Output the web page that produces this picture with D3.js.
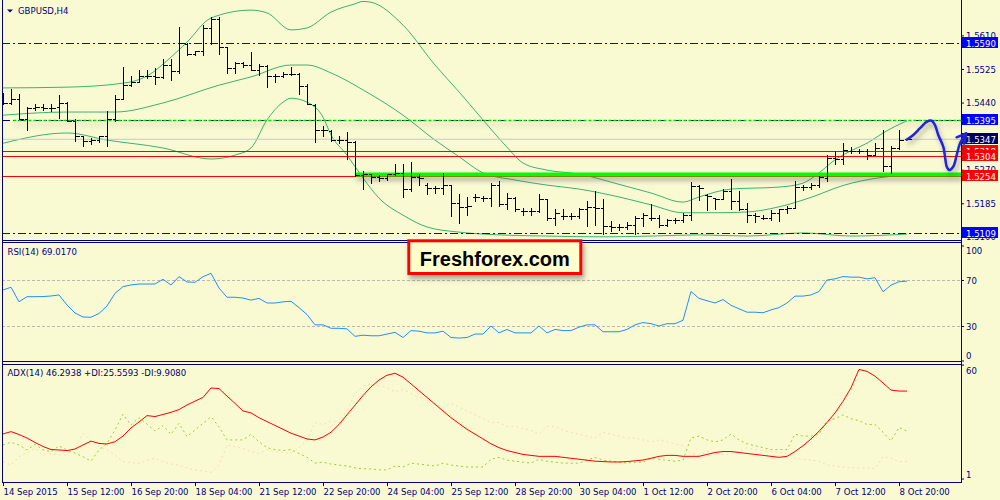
<!DOCTYPE html>
<html><head><meta charset="utf-8">
<script src="https://cdn.jsdelivr.net/npm/d3@7/dist/d3.min.js"></script>
<style>html,body{margin:0;padding:0;background:#fafad2;overflow:hidden}svg{display:block}</style>
</head><body>
<svg id="chart" width="1000" height="500"></svg>
<script>
// ---------------- DATA ----------------
const symbolTitle = "GBPUSD,H4";
const opens = [1.5459,1.5437,1.5448,1.5398,1.5425,1.5427,1.5425,1.5427,1.5438,1.5393,1.5354,1.5341,1.5343,1.5353,1.5396,1.5447,1.5482,1.5491,1.5506,1.5507,1.5503,1.5535,1.5518,1.5587,1.5562,1.5569,1.5628,1.5649,1.5579,1.5527,1.5539,1.5535,1.5522,1.5531,1.5506,1.5506,1.5510,1.5511,1.5480,1.5432,1.5370,1.5366,1.5345,1.5345,1.5339,1.5255,1.5257,1.5250,1.5248,1.5257,1.5261,1.5219,1.5251,1.5231,1.5223,1.5223,1.5229,1.5185,1.5175,1.5199,1.5198,1.5198,1.5231,1.5183,1.5198,1.5164,1.5164,1.5164,1.5195,1.5147,1.5151,1.5151,1.5151,1.5168,1.5175,1.5172,1.5127,1.5124,1.5124,1.5130,1.5147,1.5147,1.5147,1.5130,1.5141,1.5141,1.5155,1.5227,1.5204,1.5198,1.5195,1.5214,1.5189,1.5170,1.5155,1.5147,1.5147,1.5160,1.5168,1.5172,1.5226,1.5226,1.5229,1.5248,1.5299,1.5296,1.5316,1.5316,1.5316,1.5307,1.5324,1.5278,1.5324,1.5347];
const highs = [1.5463,1.5472,1.5461,1.5427,1.5434,1.5434,1.5434,1.5457,1.5441,1.5396,1.5354,1.5349,1.5355,1.5417,1.5459,1.5528,1.5506,1.5520,1.5520,1.5527,1.5548,1.5548,1.5630,1.5590,1.5570,1.5635,1.5655,1.5655,1.5579,1.5542,1.5542,1.5567,1.5537,1.5535,1.5510,1.5516,1.5528,1.5514,1.5486,1.5434,1.5379,1.5368,1.5354,1.5364,1.5341,1.5265,1.5258,1.5255,1.5258,1.5284,1.5284,1.5289,1.5258,1.5235,1.5227,1.5261,1.5231,1.5206,1.5200,1.5206,1.5203,1.5235,1.5241,1.5210,1.5199,1.5172,1.5172,1.5206,1.5195,1.5170,1.5168,1.5160,1.5172,1.5189,1.5214,1.5195,1.5138,1.5131,1.5136,1.5151,1.5158,1.5181,1.5153,1.5143,1.5147,1.5160,1.5237,1.5231,1.5206,1.5198,1.5219,1.5244,1.5214,1.5185,1.5158,1.5155,1.5166,1.5170,1.5178,1.5240,1.5231,1.5235,1.5254,1.5307,1.5316,1.5337,1.5327,1.5320,1.5320,1.5337,1.5370,1.5328,1.5370,1.5348];
const lows = [1.5435,1.5434,1.5396,1.5369,1.5419,1.5419,1.5417,1.5400,1.5392,1.5341,1.5328,1.5334,1.5339,1.5328,1.5392,1.5447,1.5480,1.5491,1.5501,1.5486,1.5501,1.5497,1.5514,1.5559,1.5559,1.5560,1.5587,1.5562,1.5514,1.5514,1.5528,1.5520,1.5508,1.5478,1.5491,1.5503,1.5508,1.5461,1.5434,1.5339,1.5354,1.5341,1.5337,1.5295,1.5252,1.5220,1.5235,1.5241,1.5242,1.5255,1.5199,1.5214,1.5231,1.5206,1.5210,1.5208,1.5151,1.5134,1.5155,1.5189,1.5189,1.5176,1.5178,1.5168,1.5164,1.5155,1.5155,1.5161,1.5141,1.5130,1.5144,1.5144,1.5147,1.5127,1.5130,1.5105,1.5113,1.5117,1.5119,1.5107,1.5126,1.5141,1.5124,1.5126,1.5134,1.5136,1.5141,1.5193,1.5166,1.5168,1.5195,1.5168,1.5166,1.5136,1.5136,1.5143,1.5141,1.5138,1.5158,1.5172,1.5217,1.5219,1.5226,1.5240,1.5284,1.5282,1.5310,1.5311,1.5296,1.5307,1.5265,1.5261,1.5320,1.5346];
const closes = [1.5437,1.5448,1.5398,1.5425,1.5427,1.5425,1.5425,1.5438,1.5393,1.5354,1.5341,1.5343,1.5353,1.5396,1.5447,1.5482,1.5491,1.5506,1.5507,1.5503,1.5535,1.5518,1.5590,1.5562,1.5569,1.5628,1.5649,1.5579,1.5527,1.5539,1.5535,1.5522,1.5531,1.5506,1.5506,1.5510,1.5511,1.5480,1.5435,1.5370,1.5370,1.5345,1.5345,1.5339,1.5255,1.5257,1.5250,1.5248,1.5257,1.5261,1.5219,1.5251,1.5248,1.5223,1.5223,1.5229,1.5185,1.5175,1.5176,1.5199,1.5198,1.5231,1.5183,1.5198,1.5170,1.5164,1.5164,1.5195,1.5147,1.5160,1.5151,1.5151,1.5168,1.5175,1.5172,1.5127,1.5124,1.5124,1.5130,1.5147,1.5155,1.5147,1.5130,1.5141,1.5141,1.5155,1.5227,1.5223,1.5202,1.5195,1.5214,1.5189,1.5170,1.5155,1.5151,1.5147,1.5160,1.5168,1.5172,1.5226,1.5226,1.5229,1.5251,1.5299,1.5296,1.5319,1.5316,1.5316,1.5307,1.5324,1.5278,1.5324,1.5345,1.5347];

// Bollinger band lines (sampled at bar indices)
const upperIdx = [0,8,15,18,21,23,26,31,33,36,38,41,44,45,46,50,54,57,60,63,65,68,72,77,81,85,87,91,97,100,102,104,106,108,110,113];
const upperVal = [1.5477,1.5479,1.5489,1.5507,1.5555,1.5593,1.5654,1.5674,1.5667,1.5624,1.5629,1.5669,1.5690,1.5696,1.5694,1.5636,1.5535,1.5467,1.5396,1.5327,1.5287,1.5269,1.5259,1.5233,1.5211,1.5188,1.5201,1.5221,1.5226,1.5236,1.5262,1.5295,1.5318,1.5337,1.5363,1.5394];
const midIdx = [0,8,14,20,27,31,36,38,41,45,50,54,57,60,64,68,72,77,81,85,89,93,97,101,105,110,113];
const midVal = [1.5408,1.5416,1.5416,1.5439,1.5484,1.5505,1.5535,1.5535,1.5515,1.5472,1.5408,1.5345,1.5303,1.5262,1.5244,1.5231,1.5221,1.5201,1.5181,1.5161,1.5161,1.5163,1.5176,1.5200,1.5230,1.5251,1.5257];
const lowIdx = [0,8,13,20,26,29,31,33,35,36,38,40,41,43,45,47,50,53,57,62,68,75,81,87,93,100,106,113];
const lowVal = [1.5337,1.5363,1.5345,1.5325,1.5297,1.5307,1.5325,1.5396,1.5441,1.5451,1.5441,1.5403,1.5358,1.5307,1.5249,1.5198,1.5155,1.5125,1.5112,1.5105,1.5102,1.5100,1.5102,1.5105,1.5102,1.5110,1.5102,1.5107];

const rsi = [61.3,63.7,51.1,55.5,55.5,55.6,56.1,57.0,48.3,41.3,37.8,37.6,40.9,47.4,58.4,64.2,65.7,66.5,66.5,66.5,70.6,65.7,72.9,68.3,68.0,72.9,75.8,63.0,55.0,55.0,54.3,
 52.5,54,50,50,51,51.5,46,40,31,31,28,28,27.5,21,22,21.5,21.5,23,24.5,20,26,25.5,24,24,25.5,20,19.5,20,23,23,
 30,24,27,24,24,24,30,24,27,26,26,29,31,31,25,25,25,27,31,33,32,30,32,32,35,60,54,52,50,53,
 48,45,42,42,41.5,44,46,50,56,56,57,60,70,71,73,72.5,72.5,71,72,59.8,65.5,68.5,69.0170];
const adx = [24.1,25.3,23.8,22.0,19.7,17.6,16.0,15.8,15.5,16.3,18.4,20.4,19.2,18.9,20.1,23.0,27.2,30.3,33.6,33.1,34.2,35.3,36.7,39.1,41.1,43.0,47.9,47.6,43.7,39.9,36.0,
 35,32.5,30.5,28.5,26.5,24.5,23,21.5,21,22.5,25,29,34,39,44,48.5,52,54.5,55.5,53.5,50,46.5,43,39.5,36,32.5,29.5,26.5,24,21.5,
 19,17,15.5,14.5,13.5,13,12.5,12.5,12.5,12,11.5,11,10.5,10,9.8,9.6,9.6,9.8,10.2,10.6,11.5,12.5,13,13,12.5,12.5,12.5,13.5,14.5,15,
 15,14.5,14,13.5,13,12.5,12,12.5,15,18,21.5,25.5,30,35,41,48,57.5,56.5,54,50.5,46.8,46.3,46.2938];
const plusDI = [18.4,19.8,18.4,15.8,18.7,15.8,14.9,17.9,15.8,14.2,12.3,10.1,15.8,19.3,26.1,34.3,28.7,32.5,29.2,25.6,28.4,23.9,29.6,22.7,26.1,29.6,33,27.8,21,21,21,23.9,
 20,17,16,15.5,16,14,12,9,9.5,8.5,8,7.5,6.5,6,6,5.5,5.5,7.5,7,9,8.5,8,7.5,9,8,7.5,7,7,7,
 11,12,10.5,10,9.5,9,11,10,9.5,9,9,9,10.5,12,10.5,10,9.5,9,9.5,9.5,11.5,11,10.5,10,10.5,22,23,21,20,21,
 24,21,19,18,17,16,16,16,24,23,23,24,31,32,34,32,31,29,29,25,20.5,27.5,25.5593];
const minusDI = [9.7,8,12.3,14.5,16.7,13.2,14.1,13.2,13.2,16.7,24.4,20.1,17.5,16,13.2,9.7,9.3,8.9,10.5,11.5,9.7,8.5,8,6.5,5.4,4.9,4.2,8,18.4,17.5,16.7,14.9,
 14,16,15,14.5,14,17,21,30,29,31,30,36,45,49,50,49,48,46,47,45,43,42,40,38,40,38,36,34,32,
 30,30,28,28,27,26,24,28,28,26,25,24,23,22,25,24,23,22,22,21,20,21,20,19,18,14,13,15,14.5,13.5,
 14,15,17,16,15.5,15,14.5,14,11.5,11,10.5,10,8,7.5,7,6.5,6.5,6.5,6,12.3,11.5,9.7,9.9080];

const priceTicks = [1.5610,1.5525,1.5440,1.5270,1.5185,1.5100];
const labelLevels = [1.5590,1.5395,1.5318,1.5304,1.5254,1.5109,1.5347];
const rsiTicks = [100,70,30,0];
const rsiLevels = [70,30];
const adxTicks = [60,1];
const xTickIdx = [0,8,16,24,32,40,48,56,64,72,80,88,96,104,112];
const xLabels = ["14 Sep 2015","15 Sep 12:00","16 Sep 20:00","18 Sep 04:00","21 Sep 12:00","22 Sep 20:00","24 Sep 04:00","25 Sep 12:00","28 Sep 20:00","30 Sep 04:00","1 Oct 12:00","2 Oct 20:00","6 Oct 04:00","7 Oct 12:00","8 Oct 20:00"];
// horizontal objects
const dashDotLevels = [1.5590,1.5395,1.5109];
const redLevels = [1.5318,1.5304,1.5254];
const bidLevel = 1.5347;
const greenLevel = 1.5258, greenStart = 44;
const dashGreenLevel = 1.5395, dashGreenStart = 1.3;
// hand-drawn forecast arrow (bar index, price)
const arrowBar   = [112.96,113.79,114.63,115.46,116.09,116.5,116.91,117.54,117.75,117.96,118.29,118.79,119.21,119.63,120.4];
const arrowPrice = [1.5346,1.5358,1.5375,1.5391,1.5394,1.5383,1.5358,1.5328,1.5303,1.5278,1.5269,1.5278,1.5307,1.5337,1.5362];
const headBar   = [119.2,120.4,120.1];
const headPrice = [1.5352,1.5362,1.5336];
const watermark = "Freshforex.com";

// ---------------- STYLE ----------------
const BG = "#fafad2", NAVY = "#000080", FONT = "'DejaVu Sans Condensed','Liberation Sans',sans-serif";
const svg = d3.select("#chart");
svg.append("rect").attr("width",1000).attr("height",500).attr("fill",BG);
const defs = svg.append("defs");
function clip(id,x,y,w,h){defs.append("clipPath").attr("id",id).append("rect").attr("x",x).attr("y",y).attr("width",w).attr("height",h);}
clip("cMain",3,0,958,240); clip("cRsi",3,243,958,118); clip("cAdx",3,365,958,117);
clip("cAxMain",0,0,40,240.5);
const sh = defs.append("filter").attr("id","sh").attr("filterUnits","userSpaceOnUse").attr("x",0).attr("y",0).attr("width",1000).attr("height",500);
sh.append("feDropShadow").attr("dx",2).attr("dy",4).attr("stdDeviation",2.5).attr("flood-color","#444").attr("flood-opacity",0.45);

// scales
const x = d3.scaleLinear().domain([0,113]).range([3,907]);
const yP = d3.scaleLinear().domain([1.5109,1.5590]).range([233.3,43.3]);
const yR = d3.scaleLinear().domain([0,100]).range([360.5,245.5]);
const yA = d3.scaleLinear().domain([0,60]).range([480.5,364.6]);
const X0 = 2, X1 = 961;

// ---------------- MAIN PANEL ----------------
const main = svg.append("g").attr("clip-path","url(#cMain)");
const bandLine = d3.line().x(d=>x(d[0])).y(d=>yP(d[1])).curve(d3.curveMonotoneX);
[[upperIdx,upperVal],[midIdx,midVal],[lowIdx,lowVal]].forEach(([ix,v])=>{
  main.append("path").attr("d",bandLine(ix.map((d,i)=>[d,v[i]]))).attr("fill","none").attr("stroke","#3cb371").attr("stroke-width",1);
});
main.append("line").attr("x1",X0).attr("x2",X1).attr("y1",yP(bidLevel)).attr("y2",yP(bidLevel)).attr("stroke","#c8c8c8");
main.selectAll("line.red").data(redLevels).join("line").attr("class","red")
  .attr("x1",X0).attr("x2",X1).attr("y1",d=>Math.round(yP(d))+0.5).attr("y2",d=>Math.round(yP(d))+0.5).attr("stroke","#ff0000");
main.selectAll("line.dd").data(dashDotLevels).join("line").attr("class","dd")
  .attr("x1",X0).attr("x2",X1).attr("y1",d=>Math.round(yP(d))+0.5).attr("y2",d=>Math.round(yP(d))+0.5)
  .attr("stroke",d=>d===dashGreenLevel?"#000060":"#0000ff").attr("stroke-dasharray","8,3,2,3");
// shadowed objects
main.append("line").attr("x1",x(dashGreenStart)).attr("x2",X1).attr("y1",Math.round(yP(dashGreenLevel))+0.5).attr("y2",Math.round(yP(dashGreenLevel))+0.5)
  .attr("stroke","#00e000").attr("stroke-width",1.5).attr("stroke-dasharray","3,2").attr("filter","url(#sh)");
main.append("line").attr("x1",x(greenStart)).attr("x2",X1).attr("y1",yP(greenLevel)).attr("y2",yP(greenLevel))
  .attr("stroke","#00ff00").attr("stroke-width",4).attr("filter","url(#sh)");
// OHLC bars
main.append("g").attr("stroke","#000").attr("stroke-width",1).attr("shape-rendering","crispEdges")
  .selectAll("path").data(d3.range(opens.length)).join("path")
  .attr("d",i=>{const cx=Math.round(x(i))+0.5;
    return `M${cx},${yP(highs[i])-0.5}V${yP(lows[i])+0.5}M${cx-3},${yP(opens[i])}H${cx}M${cx},${yP(closes[i])}H${cx+4}`;});

// title
svg.append("path").attr("d",d3.line()([[7,9.5],[13,9.5],[10,12.5]])+"Z").attr("fill",NAVY);
const T = (t,xx,yy)=>svg.append("text").attr("x",xx).attr("y",yy).text(t).attr("fill",NAVY).style("font-family",FONT).style("font-size","9.5px");
T(symbolTitle,18,14);

// price axis
const axP = svg.append("g").attr("transform",`translate(${X1},0)`).attr("clip-path","url(#cAxMain)")
  .call(d3.axisRight(yP).tickValues(priceTicks).tickFormat(d3.format(".4f")).tickSize(3).tickPadding(2));
axP.select(".domain").remove();
axP.selectAll("line").attr("stroke",NAVY);
axP.selectAll("text").attr("fill",NAVY).style("font-family",FONT).style("font-size","9.5px");
// label boxes
const boxColor = p => p===bidLevel ? "#000060" : (redLevels.includes(p) ? "#ff0000" : "#0000ff");
const lb = svg.append("g").selectAll("g").data(labelLevels).join("g").attr("transform",d=>`translate(962,${Math.round(yP(d))})`);
lb.append("rect").attr("x",0).attr("y",-6).attr("width",36).attr("height",11).attr("fill",boxColor);
lb.append("text").attr("x",4).attr("y",3.5).text(d=>d3.format(".4f")(d)).attr("fill","#fff").style("font-family",FONT).style("font-size","9.5px");

// ---------------- RSI PANEL ----------------
const rp = svg.append("g").attr("clip-path","url(#cRsi)");
rp.selectAll("line").data(rsiLevels).join("line").attr("x1",X0).attr("x2",X1).attr("y1",d=>Math.round(yR(d))+0.5).attr("y2",d=>Math.round(yR(d))+0.5)
  .attr("stroke","#b8b8b8").attr("stroke-dasharray","3,2");
rp.append("path").attr("d",d3.line().x((d,i)=>x(i)).y(d=>yR(d))(rsi)).attr("fill","none").attr("stroke","#1e90ff").attr("stroke-width",1);
T(`RSI(14) ${rsi[rsi.length-1].toFixed(4)}`,7.5,255);
const axR = svg.append("g").attr("transform",`translate(${X1},0)`).call(d3.axisRight(yR).tickValues(rsiTicks).tickSize(3).tickPadding(2));
axR.select(".domain").remove(); axR.selectAll("line").attr("stroke",NAVY);
axR.selectAll("text").attr("fill",NAVY).attr("y",d=>d===100?5:(d===0?-5:0)).style("font-family",FONT).style("font-size","9.5px");

// ---------------- ADX PANEL ----------------
const ap = svg.append("g").attr("clip-path","url(#cAdx)");
const aLine = d3.line().x((d,i)=>x(i)).y(d=>yA(d));
ap.append("path").attr("d",aLine(minusDI)).attr("fill","none").attr("stroke","#f5deb3").attr("stroke-width",1).attr("stroke-dasharray","2,3");
ap.append("path").attr("d",aLine(plusDI)).attr("fill","none").attr("stroke","#9acd32").attr("stroke-width",1).attr("stroke-dasharray","2,3");
ap.append("path").attr("d",aLine(adx)).attr("fill","none").attr("stroke","#ff0000").attr("stroke-width",1);
T(`ADX(14) ${adx[adx.length-1].toFixed(4)} +DI:${plusDI[plusDI.length-1].toFixed(4)} -DI:${minusDI[minusDI.length-1].toFixed(4)}`,7.5,376);
const axA = svg.append("g").attr("transform",`translate(${X1},0)`).call(d3.axisRight(yA).tickValues(adxTicks).tickSize(3).tickPadding(2));
axA.select(".domain").remove(); axA.selectAll("line").attr("stroke",NAVY);
axA.selectAll("text").attr("fill",NAVY).attr("y",d=>d===60?6:-4).style("font-family",FONT).style("font-size","9.5px");

// ---------------- X AXIS ----------------
const axX = svg.append("g").attr("transform","translate(0,482)")
  .call(d3.axisBottom(x).tickValues(xTickIdx).tickFormat((d,i)=>xLabels[i]).tickSize(4));
axX.select(".domain").remove(); axX.selectAll("line").attr("stroke",NAVY);
axX.selectAll("text").attr("text-anchor","start").attr("x",0).attr("y",13).attr("dy",0).attr("fill",NAVY)
  .style("font-family",FONT).style("font-size","9.5px");

// ---------------- BORDERS ----------------
const B = svg.append("g").attr("stroke",NAVY).attr("stroke-width",1).attr("shape-rendering","crispEdges");
B.append("line").attr("x1",2.5).attr("x2",2.5).attr("y1",0).attr("y2",482.5);
B.append("line").attr("x1",961.5).attr("x2",961.5).attr("y1",0).attr("y2",482.5);
[240.5,242.5,361.5,364.5,482.5].forEach(yy=>B.append("line").attr("x1",2).attr("x2",962).attr("y1",yy).attr("y2",yy));

// ---------------- WATERMARK ----------------
const wm = svg.append("g");
wm.append("rect").attr("x",408.8).attr("y",240.8).attr("width",172).attr("height",32.7).attr("fill","#ffffcc").attr("stroke","#ff0000").attr("stroke-width",3).attr("filter","url(#sh)");
wm.append("text").attr("x",494.8).attr("y",266).attr("text-anchor","middle").text(watermark)
  .style("font-family","'Liberation Sans',Arial,sans-serif").style("font-weight","bold").style("font-size","20px").attr("fill","#000");

// ---------------- ARROW ----------------
const arr = svg.append("g").attr("filter","url(#sh)").attr("fill","none").attr("stroke","#2020e0").attr("stroke-width",2.5).attr("stroke-linecap","round").attr("stroke-linejoin","round");
arr.append("path").attr("d",d3.line().x(d=>x(d[0])).y(d=>yP(d[1])).curve(d3.curveCatmullRom)(arrowBar.map((b,i)=>[b,arrowPrice[i]])));
arr.append("path").attr("d",d3.line().x(d=>x(d[0])).y(d=>yP(d[1]))(headBar.map((b,i)=>[b,headPrice[i]])));
</script></body></html>
